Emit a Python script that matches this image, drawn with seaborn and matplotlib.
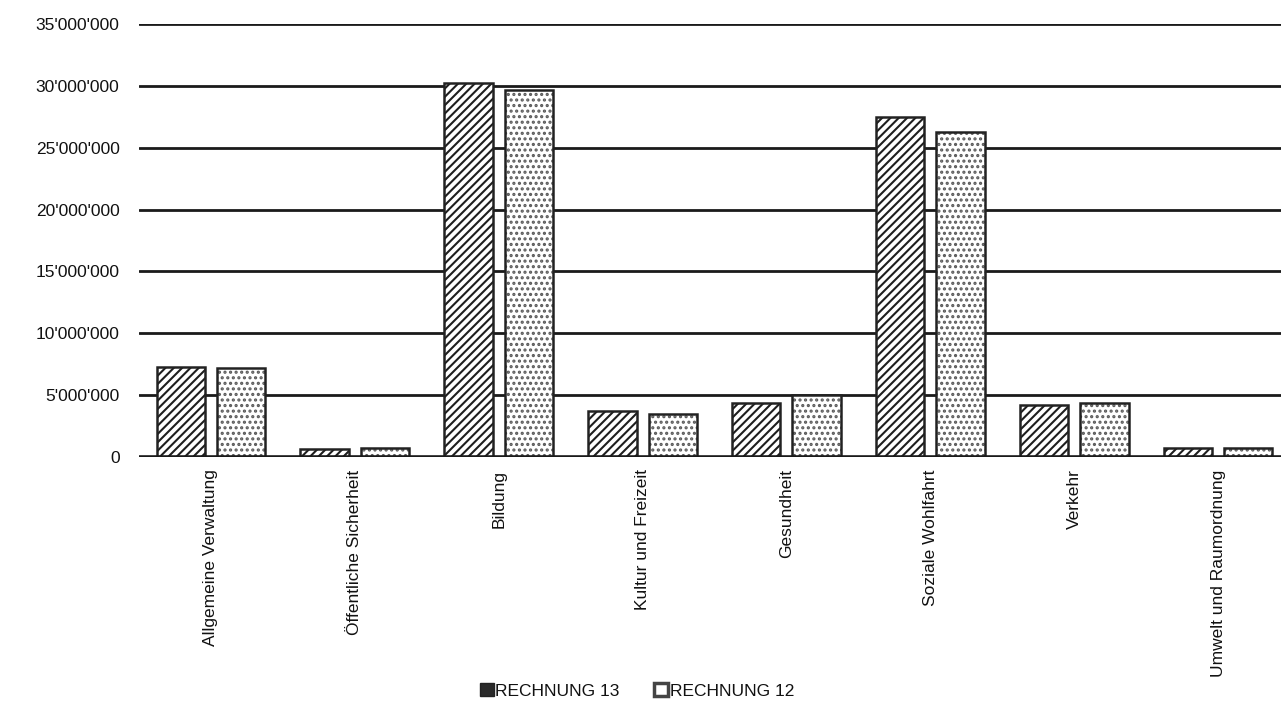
import matplotlib
matplotlib.use("Agg")
import matplotlib.pyplot as plt
import matplotlib.ticker as mticker
from matplotlib.patches import Patch
import pandas as pd
import seaborn as sns

categories = ["Allgemeine Verwaltung", "Öffentliche Sicherheit", "Bildung",
              "Kultur und Freizeit", "Gesundheit", "Soziale Wohlfahrt",
              "Verkehr", "Umwelt und Raumordnung"]
rechnung_13 = [7300000, 650000, 30200000, 3700000, 4350000, 27500000, 4200000, 730000]
rechnung_12 = [7200000, 750000, 29650000, 3450000, 5000000, 26250000, 4350000, 730000]
series = ["RECHNUNG 13", "RECHNUNG 12"]
y_ticks = [0, 5000000, 10000000, 15000000, 20000000, 25000000, 30000000, 35000000]

df = pd.DataFrame({
    "Kategorie": categories * 2,
    "Betrag": rechnung_13 + rechnung_12,
    "Serie": [series[0]] * len(categories) + [series[1]] * len(categories),
})

sns.set_theme(style="white")
plt.rcParams["font.family"] = ["Liberation Sans", "DejaVu Sans"]
plt.rcParams["hatch.linewidth"] = 1.5

W, H = 1281, 706
fig = plt.figure(figsize=(W / 100, H / 100), dpi=100)
# plot area runs slightly past the right edge of the canvas
ax_left, ax_right, ax_top, ax_bottom = 139, 1290, 24, 457
ax = fig.add_axes([ax_left / W, 1 - ax_bottom / H, (ax_right - ax_left) / W, (ax_bottom - ax_top) / H])

sns.barplot(data=df, x="Kategorie", y="Betrag", hue="Serie", order=categories,
            hue_order=series, width=0.84, gap=0.2, ax=ax, legend=False,
            edgecolor="#222222", linewidth=1.8, errorbar=None)

hatches = {0: "////", 1: "..."}
hatch_colors = {0: "#1e1e1e", 1: "#5a5a5a"}
n = len(categories)
for i, bar in enumerate(ax.patches[:2 * n]):
    s = i // n
    bar.set_facecolor("white")
    bar.set_hatch(hatches[s])
    bar.set_edgecolor("#222222")
    bar._hatch_color = matplotlib.colors.to_rgba(hatch_colors[s])

ax.set_ylim(0, 35000000)
ax.set_xlim(-0.5, n - 0.5)
ax.set_yticks(y_ticks)
ax.yaxis.set_major_formatter(mticker.FuncFormatter(lambda v, p: f"{int(v):,}".replace(",", "'")))
for t in y_ticks[1:]:
    ax.axhline(t, color="#1a1a1a", linewidth=2.0, zorder=0)
ax.axhline(0, color="#1a1a1a", linewidth=2.6, zorder=3)

for sp in ax.spines.values():
    sp.set_visible(False)
ax.tick_params(axis="both", length=0, labelsize=12.5, colors="#111111")
ax.tick_params(axis="y", pad=14)
ax.tick_params(axis="x", pad=9)
plt.setp(ax.get_xticklabels(), rotation=90, ha="center", va="top")
ax.set_xlabel("")
ax.set_ylabel("")

handles = [Patch(facecolor="#2a2a2a", edgecolor="#222222", label=series[0]),
           Patch(facecolor="white", edgecolor="#444444", linewidth=2.5, label=series[1])]
fig.legend(handles=handles, loc="center", bbox_to_anchor=(637 / W, 1 - 691 / H),
           ncol=2, frameon=False, fontsize=12.5, handlelength=0.8, handleheight=0.8,
           handletextpad=0.1, columnspacing=2.0, labelcolor="#111111")

fig.savefig("out.png", dpi=100, facecolor="white")
